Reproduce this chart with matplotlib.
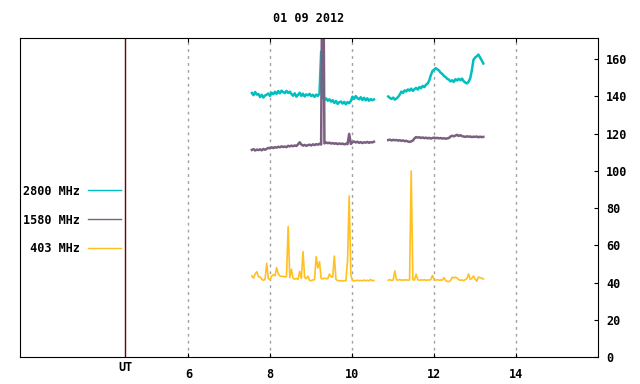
import numpy as np
import matplotlib
matplotlib.use("Agg")
import matplotlib.pyplot as plt
from matplotlib.transforms import blended_transform_factory

#-----data-----#
title = "01 09 2012"
labels = ["2800 MHz", "1580 MHz", " 403 MHz"]
xticks = [6, 8, 10, 12, 14]
yticks = [0, 20, 40, 60, 80, 100, 120, 140, 160]
ut_pos = 4.46

# two observing windows (hours UT)
t1_start, t1_end = 7.55, 10.53
t2_start, t2_end = 10.88, 13.20

f2800_a = [141.8, 140.6, 142.3, 140.9, 141.2,
           139.6, 140.8, 139.3, 140.4, 140.9,
           141.5, 140.2, 141.9, 141.1, 142.4,
           141.3, 142.8, 141.6, 143.0, 142.2,
           141.7, 142.9, 141.8, 142.5, 141.2,
           140.3, 141.6, 139.8, 140.7, 141.9,
           140.2, 141.4, 139.9, 141.0, 140.5,
           141.3, 140.1, 140.8, 139.7, 140.9,
           140.2, 141.5, 164.0, 139.2, 138.1,
           138.9, 137.6, 138.4, 137.1, 137.9,
           136.4, 137.5, 135.9, 136.8, 137.2,
           136.1, 137.0, 135.7, 136.9, 136.3,
           137.5, 139.8, 138.6, 140.1, 139.0,
           138.4, 139.5, 138.0, 139.2, 137.8,
           138.9, 137.6, 138.5, 137.9, 138.3]
f2800_b = [139.9, 139.1, 138.6, 139.3, 138.2, 138.8, 139.6, 140.9, 142.5, 141.8,
           143.2, 142.6, 143.7, 143.0, 144.1, 142.9, 143.8, 144.5, 143.6, 145.0,
           144.3, 145.6, 144.9, 146.2, 146.8, 148.5, 151.4, 153.6, 154.3, 155.1,
           154.4, 153.8, 152.6, 152.0, 150.9, 150.3, 149.4, 148.9, 148.0, 148.6,
           147.7, 149.2, 148.5, 149.4, 148.6, 149.5, 148.1, 147.4, 146.9, 147.8,
           149.6, 153.9, 159.6, 160.8, 161.5, 162.4, 160.9, 159.3, 157.6]

f1580_a = [111.2, 111.6, 110.9, 111.4, 111.1,
           111.5, 111.0, 111.7, 111.3, 111.8,
           112.3, 112.1, 112.6, 112.2, 112.7,
           112.4, 112.9, 112.6, 113.1, 112.8,
           113.0, 112.7, 113.4, 113.1, 113.5,
           113.2, 113.6, 113.3, 114.2, 115.3,
           114.1, 113.5, 113.9, 113.4, 113.8,
           114.0, 113.6, 114.2, 113.8, 114.3,
           114.0, 114.5, 114.1, 260.0, 114.7,
           115.2, 114.8, 115.1, 114.6, 114.9,
           114.5, 114.8, 114.3, 114.7, 114.4,
           114.6, 114.2, 114.5, 114.3, 119.8,
           114.4, 115.3, 115.7, 115.2, 115.6,
           115.0, 115.4, 114.9, 115.3, 115.1,
           115.5, 115.0, 115.4, 115.2, 115.6]
f1580_b = [116.5, 116.7, 116.3, 116.6, 116.4, 116.5, 116.2, 116.4, 116.1, 116.3,
           115.9, 116.1, 115.7, 115.5, 115.8, 116.2, 117.4, 118.1, 117.8, 118.0,
           117.6, 117.9, 117.5, 117.8, 117.4, 117.7, 117.3, 117.6, 117.8, 117.5,
           117.7, 117.4, 117.6, 117.3, 117.5, 117.2, 117.4, 117.6, 118.4, 118.8,
           118.5, 118.9, 119.3, 118.7, 119.1, 118.6, 118.4, 118.2, 118.5, 118.3,
           118.4, 118.1, 118.3, 118.2, 118.4, 118.0, 118.3, 118.1, 118.2]

f403_a = [43.5, 42.4, 44.6, 45.8, 43.1,
          42.9, 41.8, 41.2, 41.6, 50.3,
          42.0, 41.5, 43.4, 44.2, 43.6,
          48.0, 44.8, 43.5, 43.2, 43.4,
          42.9, 43.3, 70.0, 42.6, 47.1,
          42.3, 41.8, 42.2, 41.6, 46.0,
          42.1, 56.6, 42.8, 42.0, 43.4,
          41.1, 41.0, 41.4, 41.5, 53.9,
          47.8, 51.2, 42.2, 42.0, 42.3,
          42.1, 42.0, 44.5, 43.2, 42.8,
          54.2, 41.6, 41.1, 40.9, 41.0,
          40.8, 41.0, 40.9, 51.7, 86.5,
          44.0, 41.1, 40.9, 41.0, 41.2,
          41.0, 41.1, 40.9, 41.3, 41.0,
          41.2, 40.9, 41.6, 41.0, 41.1]
f403_b = [41.2, 41.6, 41.0, 41.4, 46.2, 41.5, 41.3, 41.6, 41.2, 41.4,
          41.3, 41.5, 41.2, 41.4, 99.9, 41.6, 41.3, 44.5, 41.5, 41.2,
          41.4, 41.3, 41.5, 41.2, 41.4, 41.3, 41.6, 43.8, 41.4, 41.3,
          41.5, 41.2, 41.4, 41.3, 42.6, 41.1, 40.6, 40.5, 41.0, 42.8,
          42.5, 42.9, 42.4, 41.5, 41.2, 41.4, 41.0, 41.6, 42.1, 44.6,
          41.7, 42.2, 43.5, 42.0, 40.7, 42.9, 42.6, 42.4, 41.8]
#-----data-----#

col2800 = "#00bfbf"
col1580 = "#7b5f80"
col403 = "#ffc020"
fnt = dict(family="DejaVu Sans Mono", weight="bold", size=8.5)
lw = 1.8

t_a = np.linspace(t1_start, t1_end, len(f2800_a))
t_b = np.linspace(t2_start, t2_end, len(f2800_b))

fig = plt.figure(figsize=(6.4, 3.84), dpi=100)
ax = fig.add_axes([20/640, 1 - 357/384, 578/640, 319/384])

l1, = ax.plot(t_a, f2800_a, color=col2800, lw=lw)
ax.plot(t_b, f2800_b, color=col2800, lw=lw)
l2, = ax.plot(t_a, f1580_a, color=col1580, lw=lw)
ax.plot(t_b, f1580_b, color=col1580, lw=lw)
l3, = ax.plot(t_a, f403_a, color=col403, lw=1.2)
ax.plot(t_b, f403_b, color=col403, lw=1.2)

ax.axvline(ut_pos, color="#700000", lw=1)
for x in xticks:
    ax.axvline(x, color="#a0a0a0", lw=1, ls=(0, (2, 3)), zorder=0)

ax.set_xlim(1.89, 16)
ax.set_ylim(0, 171.3)

ax.set_xticks(xticks)
ax.set_xticklabels([str(x) for x in xticks], fontdict=fnt)
ax.tick_params(axis="x", direction="in", length=3, top=True, pad=8)
ax.yaxis.tick_right()
ax.set_yticks(yticks)
ax.set_yticklabels([str(y) for y in yticks], fontdict=fnt)
ax.tick_params(axis="y", direction="in", length=3, left=False, right=True, pad=6)

tr = blended_transform_factory(ax.transData, ax.transAxes)
ax.text(ut_pos, -0.013, "UT", transform=tr, ha="center", va="top", **fnt)

fig.text(309/640, 1 - 19/384, title, ha="center", va="center", **fnt)

leg = ax.legend([l1, l2, l3], labels, loc="upper left",
                bbox_to_anchor=(12.5/640, 1 - 174/384), bbox_transform=fig.transFigure,
                frameon=False, markerfirst=False, handlelength=2.8,
                handletextpad=0.7, labelspacing=1.35,
                prop=dict(family="DejaVu Sans Mono", weight="bold", size=8.5))
for h in leg.legend_handles:
    h.set_linewidth(1.0)

fig.savefig("out.png", dpi=100)
